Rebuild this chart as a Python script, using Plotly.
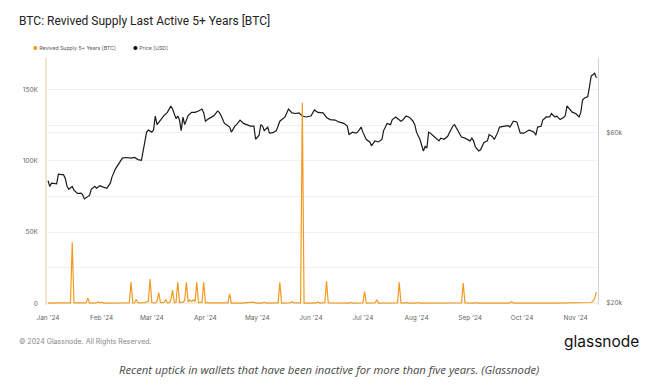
import plotly.graph_objects as go
import math

TITLE = "BTC: Revived Supply Last Active 5+ Years [BTC]"
LEGEND_SUPPLY = "Revived Supply 5+ Years [BTC]"
LEGEND_PRICE = "Price [USD]"
FOOTER = "© 2024 Glassnode. All Rights Reserved."
LOGO = "glassnode"
CAPTION = "Recent uptick in wallets that have been inactive for more than five years. (Glassnode)"

supply_dates = [
    "2024-01-01", "2024-01-05", "2024-01-10", "2024-01-14", "2024-01-15", "2024-01-16",
    "2024-01-20", "2024-01-23", "2024-01-24", "2024-01-25", "2024-01-29", "2024-01-30",
    "2024-01-31", "2024-02-01", "2024-02-02", "2024-02-08", "2024-02-14", "2024-02-17",
    "2024-02-18", "2024-02-19", "2024-02-20", "2024-02-21", "2024-02-22", "2024-02-26",
    "2024-02-28", "2024-02-29", "2024-03-01", "2024-03-03", "2024-03-04", "2024-03-05",
    "2024-03-06", "2024-03-08", "2024-03-09", "2024-03-10", "2024-03-11", "2024-03-12",
    "2024-03-13", "2024-03-14", "2024-03-15", "2024-03-16", "2024-03-17", "2024-03-19",
    "2024-03-20", "2024-03-21", "2024-03-22", "2024-03-23", "2024-03-24", "2024-03-25",
    "2024-03-26", "2024-03-27", "2024-03-28", "2024-03-30", "2024-03-31", "2024-04-01",
    "2024-04-05", "2024-04-10", "2024-04-11", "2024-04-12", "2024-04-14", "2024-04-15",
    "2024-04-16", "2024-04-22", "2024-04-28", "2024-04-29", "2024-04-30", "2024-05-04",
    "2024-05-05", "2024-05-06", "2024-05-12", "2024-05-13", "2024-05-14", "2024-05-15",
    "2024-05-20", "2024-05-21", "2024-05-22", "2024-05-25", "2024-05-26", "2024-05-27",
    "2024-05-28", "2024-06-01", "2024-06-04", "2024-06-05", "2024-06-06", "2024-06-09",
    "2024-06-10", "2024-06-11", "2024-06-16", "2024-06-23", "2024-06-24", "2024-06-25",
    "2024-07-01", "2024-07-02", "2024-07-03", "2024-07-08", "2024-07-09", "2024-07-10",
    "2024-07-21", "2024-07-22", "2024-07-23", "2024-07-25", "2024-07-26", "2024-07-27",
    "2024-08-01", "2024-08-02", "2024-08-03", "2024-08-12", "2024-08-27", "2024-08-28",
    "2024-08-29", "2024-09-03", "2024-09-04", "2024-09-05", "2024-09-16", "2024-09-17",
    "2024-09-18", "2024-09-24", "2024-09-25", "2024-09-26", "2024-10-02", "2024-10-03",
    "2024-10-04", "2024-10-10", "2024-10-11", "2024-10-12", "2024-10-20", "2024-10-28",
    "2024-10-29", "2024-10-30", "2024-11-05", "2024-11-08", "2024-11-10", "2024-11-11",
    "2024-11-12", "2024-11-13",
]
supply_values = [
    300, 200, 400, 500, 42900, 400,
    300, 400, 3800, 300, 400, 1200,
    300, 900, 300, 400, 300, 500,
    15000, 300, 500, 2800, 400, 600,
    1500, 17200, 700, 500, 1500, 7700,
    600, 700, 2600, 500, 600, 2500,
    9400, 700, 800, 14800, 600, 1000,
    2000, 14800, 1000, 2500, 1500, 2500,
    1200, 14800, 700, 900, 14800, 500,
    400, 300, 600, 300, 400, 6800,
    300, 300, 400, 900, 300, 300,
    1000, 300, 400, 400, 14800, 300,
    500, 1300, 400, 300, 400, 140600,
    300, 300, 400, 1100, 300, 600,
    15500, 400, 300, 300, 800, 300,
    400, 8400, 300, 400, 2600, 300,
    500, 14800, 400, 300, 800, 300,
    300, 800, 300, 300, 400, 14300,
    400, 300, 600, 300, 300, 500,
    300, 300, 1400, 300, 300, 500,
    300, 300, 500, 300, 300, 300,
    600, 300, 300, 500, 700, 1500,
    3500, 8200,
]

price_dates = [
    "2024-01-01", "2024-01-02", "2024-01-03", "2024-01-06", "2024-01-07", "2024-01-10",
    "2024-01-11", "2024-01-12", "2024-01-13", "2024-01-15", "2024-01-16", "2024-01-18",
    "2024-01-20", "2024-01-21", "2024-01-22", "2024-01-23", "2024-01-25", "2024-01-26",
    "2024-01-28", "2024-01-29", "2024-01-31", "2024-02-02", "2024-02-04", "2024-02-06",
    "2024-02-07", "2024-02-09", "2024-02-11", "2024-02-13", "2024-02-15", "2024-02-18",
    "2024-02-20", "2024-02-22", "2024-02-24", "2024-02-25", "2024-02-27", "2024-02-28",
    "2024-03-01", "2024-03-02", "2024-03-03", "2024-03-04", "2024-03-06", "2024-03-08",
    "2024-03-10", "2024-03-12", "2024-03-13", "2024-03-15", "2024-03-16", "2024-03-17",
    "2024-03-18", "2024-03-19", "2024-03-20", "2024-03-22", "2024-03-24", "2024-03-26",
    "2024-03-28", "2024-03-30", "2024-03-31", "2024-04-01", "2024-04-03", "2024-04-06",
    "2024-04-08", "2024-04-09", "2024-04-10", "2024-04-12", "2024-04-13", "2024-04-15",
    "2024-04-16", "2024-04-18", "2024-04-19", "2024-04-21", "2024-04-23", "2024-04-25",
    "2024-04-27", "2024-04-29", "2024-04-30", "2024-05-02", "2024-05-03", "2024-05-04",
    "2024-05-05", "2024-05-07", "2024-05-08", "2024-05-10", "2024-05-12", "2024-05-14",
    "2024-05-15", "2024-05-17", "2024-05-19", "2024-05-21", "2024-05-23", "2024-05-25",
    "2024-05-27", "2024-05-29", "2024-06-01", "2024-06-03", "2024-06-05", "2024-06-08",
    "2024-06-10", "2024-06-12", "2024-06-15", "2024-06-17", "2024-06-20", "2024-06-22",
    "2024-06-23", "2024-06-25", "2024-06-27", "2024-06-28", "2024-06-30", "2024-07-01",
    "2024-07-03", "2024-07-05", "2024-07-06", "2024-07-08", "2024-07-10", "2024-07-12",
    "2024-07-13", "2024-07-15", "2024-07-17", "2024-07-18", "2024-07-20", "2024-07-23",
    "2024-07-24", "2024-07-26", "2024-07-28", "2024-07-30", "2024-07-31", "2024-08-01",
    "2024-08-03", "2024-08-05", "2024-08-06", "2024-08-07", "2024-08-08", "2024-08-09",
    "2024-08-11", "2024-08-12", "2024-08-14", "2024-08-15", "2024-08-17", "2024-08-19",
    "2024-08-20", "2024-08-22", "2024-08-23", "2024-08-25", "2024-08-27", "2024-08-29",
    "2024-08-30", "2024-09-01", "2024-09-02", "2024-09-03", "2024-09-04", "2024-09-06",
    "2024-09-07", "2024-09-09", "2024-09-11", "2024-09-12", "2024-09-14", "2024-09-15",
    "2024-09-17", "2024-09-18", "2024-09-21", "2024-09-23", "2024-09-24", "2024-09-26",
    "2024-09-28", "2024-09-29", "2024-09-30", "2024-10-02", "2024-10-05", "2024-10-06",
    "2024-10-08", "2024-10-09", "2024-10-10", "2024-10-12", "2024-10-13", "2024-10-15",
    "2024-10-17", "2024-10-18", "2024-10-20", "2024-10-21", "2024-10-23", "2024-10-25",
    "2024-10-26", "2024-10-27", "2024-10-28", "2024-10-30", "2024-11-01", "2024-11-03",
    "2024-11-04", "2024-11-05", "2024-11-06", "2024-11-08", "2024-11-09", "2024-11-10",
    "2024-11-11", "2024-11-12", "2024-11-13",
]
price_values = [
    44000, 42400, 43300, 43100, 45900, 45700,
    44600, 42400, 41600, 42400, 41400, 40500,
    40600, 40200, 39100, 39400, 40000, 41600,
    42400, 41900, 42600, 42200, 41900, 43300,
    45100, 47500, 49000, 50900, 51100, 50900,
    51100, 50400, 50200, 53700, 60200, 61000,
    60200, 61000, 66800, 63200, 65300, 67000,
    68400, 71300, 69900, 65700, 66800, 65100,
    60800, 66300, 63200, 67000, 68400, 68400,
    69000, 69900, 68200, 64600, 65700, 67000,
    69000, 68400, 67000, 63700, 63200, 62200,
    60200, 62600, 63200, 65100, 63700, 63200,
    62600, 62600, 57500, 59000, 63200, 62600,
    60800, 62200, 59800, 60000, 60800, 64600,
    65100, 66400, 69900, 68200, 67900, 68200,
    66800, 66400, 66800, 69500, 68400, 68200,
    66200, 65300, 65100, 64300, 63700, 62600,
    59300, 60200, 59800, 60200, 62200, 60200,
    57400, 56500, 55100, 56900, 56500, 57400,
    60800, 63700, 63200, 65300, 66400, 64600,
    65100, 66800, 66200, 64600, 63200, 60200,
    57400, 53300, 54900, 54300, 60200, 59800,
    58600, 57900, 56900, 57900, 57500, 58600,
    59800, 62600, 63200, 60800, 58300, 57900,
    57500, 56900, 57900, 56900, 54700, 53300,
    53700, 56300, 56900, 59300, 58400, 57400,
    60200, 62200, 62600, 62800, 62200, 64600,
    64300, 62200, 59800, 59800, 61000, 60800,
    60200, 59000, 62200, 62500, 65100, 66400,
    66400, 67900, 66400, 66800, 65300, 66200,
    67000, 71300, 70300, 68500, 67900, 66400,
    68500, 74100, 75000, 75800, 80800, 86600,
    87200, 88100, 85500,
]

supply_tickvals = [0, 25000, 50000, 75000, 100000, 125000, 150000]
supply_ticktext = ["0", "", "50K", "", "100K", "", "150K"]
price_tickvals = [20000, 60000]
price_ticktext = ["$20k", "$60k"]

ORANGE = "#F29A1F"
OFF = 8  # page body margin offset
W, H = 658 - OFF, 392 - OFF
L, R, T, B = 47 - OFF, 598 - OFF, 58 - OFF, 305 - OFF


def px(x):
    return (x - OFF - L) / (R - L)


def py(y):
    return (B - (y - OFF)) / (B - T)


fig = go.Figure()

fig.add_trace(go.Scatter(
    x=price_dates, y=price_values, mode="lines", name=LEGEND_PRICE,
    line=dict(color="#1a1a1a", width=1.2), yaxis="y", showlegend=False,
))
fig.add_trace(go.Scatter(
    x=supply_dates, y=supply_values, mode="lines", name=LEGEND_SUPPLY,
    line=dict(color=ORANGE, width=1.2), yaxis="y2", showlegend=False,
))

tick_font = dict(family="Inter, Roboto, sans-serif", size=6.5, color="#666666")

fig.update_layout(
    width=W, height=H,
    margin=dict(l=L, r=W - R, t=T, b=H - B),
    paper_bgcolor="white", plot_bgcolor="white",
    showlegend=False,
    xaxis=dict(
        type="date",
        range=["2023-12-31 10:00", "2024-11-13 22:00"],
        dtick="M1", tick0="2024-01-01", tickformat="%b '%y",
        showgrid=False, zeroline=False, showline=False,
        ticks="outside", ticklen=6, tickcolor="rgba(0,0,0,0)",
        tickfont=tick_font,
    ),
    yaxis=dict(
        type="log",
        range=[math.log10(19700), math.log10(97200)],
        side="right",
        tickvals=price_tickvals, ticktext=price_ticktext,
        showgrid=True, gridcolor="#f1f1f1", gridwidth=1,
        showline=True, linecolor="#d4d4d4", linewidth=1,
        zeroline=False,
        ticks="outside", ticklen=6, tickcolor="rgba(0,0,0,0)",
        tickfont=tick_font,
    ),
    yaxis2=dict(
        overlaying="y", side="left",
        range=[-1050, 172000],
        tickvals=supply_tickvals, ticktext=supply_ticktext,
        showgrid=True, gridcolor="#f1f1f1", gridwidth=1,
        showline=True, linecolor="#f3e5cc", linewidth=1.5,
        zeroline=False,
        ticks="outside", ticklen=6, tickcolor="rgba(0,0,0,0)",
        tickfont=tick_font,
    ),
)

anns = [
    dict(x=px(17), y=py(21), text=TITLE, xanchor="left", yanchor="middle",
         font=dict(family="Roboto, sans-serif", size=12, color="#222222")),
    dict(x=px(31), y=py(48.5),
         text=f'<span style="color:{ORANGE}">●</span> {LEGEND_SUPPLY}',
         xanchor="left", yanchor="middle",
         font=dict(family="Inter, Roboto, sans-serif", size=5.2, color="#555555")),
    dict(x=px(131), y=py(48.5),
         text=f'<span style="color:#111111">●</span> {LEGEND_PRICE}',
         xanchor="left", yanchor="middle",
         font=dict(family="Inter, Roboto, sans-serif", size=5.2, color="#555555")),
    dict(x=px(17), y=py(341), text=FOOTER, xanchor="left", yanchor="middle",
         font=dict(family="Inter, Roboto, sans-serif", size=7, color="#888888")),
    dict(x=px(641), y=py(341), text=LOGO, xanchor="right", yanchor="middle",
         font=dict(family="Inter, Roboto, sans-serif", size=15.5, color="#111111")),
    dict(x=px(329), y=py(369), text=f"<i>{CAPTION}</i>", xanchor="center", yanchor="middle",
         font=dict(family="Open Sans, sans-serif", size=11.3, color="#4a4a4a")),
]
for a in anns:
    a.update(xref="paper", yref="paper", showarrow=False)
fig.update_layout(annotations=anns)

fig.write_html("out.html")
